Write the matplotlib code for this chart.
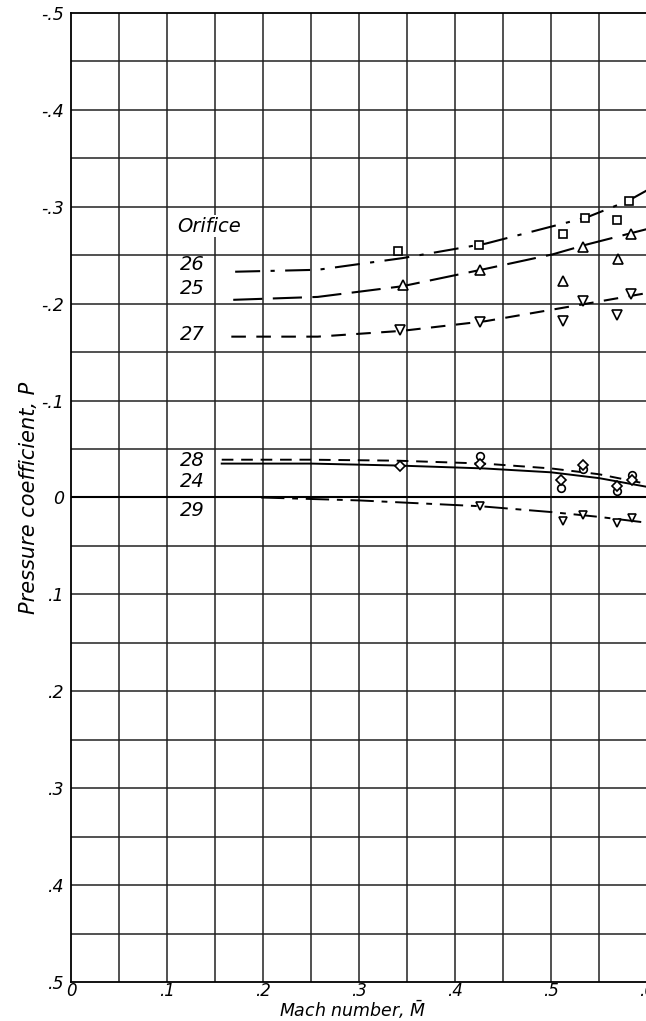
import numpy as np
import matplotlib.pyplot as plt

plt.rcParams['font.family'] = 'DejaVu Sans'
plt.rcParams['font.style'] = 'italic'
plt.rcParams['mathtext.fontset'] = 'dejavusans'

# faired curves (Mach number, pressure coefficient)
m26 = [0.171, 0.257, 0.345, 0.432, 0.502, 0.537, 0.58, 0.6]
p26 = [-0.233, -0.235, -0.247, -0.262, -0.280, -0.289, -0.306, -0.317]
m25 = [0.169, 0.257, 0.345, 0.432, 0.502, 0.537, 0.6]
p25 = [-0.204, -0.207, -0.218, -0.236, -0.251, -0.261, -0.277]
m27 = [0.167, 0.257, 0.345, 0.432, 0.502, 0.537, 0.6]
p27 = [-0.166, -0.166, -0.172, -0.182, -0.194, -0.200, -0.211]
m28 = [0.157, 0.25, 0.34, 0.43, 0.5, 0.55, 0.6]
p28 = [-0.039, -0.039, -0.038, -0.035, -0.030, -0.024, -0.014]
m24 = [0.157, 0.25, 0.34, 0.43, 0.5, 0.55, 0.6]
p24 = [-0.035, -0.035, -0.033, -0.030, -0.026, -0.020, -0.011]
m29 = [0.198, 0.3, 0.426, 0.5, 0.55, 0.6]
p29 = [0.0, 0.003, 0.009, 0.015, 0.020, 0.026]

# test points
pt26_m = [0.341, 0.425, 0.513, 0.535, 0.569, 0.581]
pt26_p = [-0.254, -0.261, -0.272, -0.288, -0.286, -0.306]
pt25_m = [0.3455, 0.426, 0.513, 0.533, 0.5695, 0.5835]
pt25_p = [-0.219, -0.235, -0.223, -0.259, -0.246, -0.272]
pt27_m = [0.343, 0.426, 0.513, 0.533, 0.569, 0.5835]
pt27_p = [-0.173, -0.181, -0.182, -0.203, -0.188, -0.210]
pt28_m = [0.426, 0.51, 0.533, 0.569, 0.584]
pt28_p = [-0.043, -0.010, -0.029, -0.007, -0.023]
pt24_m = [0.343, 0.426, 0.51, 0.533, 0.569, 0.584]
pt24_p = [-0.032, -0.035, -0.018, -0.034, -0.012, -0.018]
pt29_m = [0.426, 0.513, 0.533, 0.569, 0.584]
pt29_p = [0.009, 0.024, 0.018, 0.026, 0.021]

xticks = [0, 0.1, 0.2, 0.3, 0.4, 0.5, 0.6]
xlabels = ['0', '.1', '.2', '.3', '.4', '.5', '.6']
yticks = [-0.5, -0.4, -0.3, -0.2, -0.1, 0, 0.1, 0.2, 0.3, 0.4, 0.5]
ylabels = ['-.5', '-.4', '-.3', '-.2', '-.1', '0', '.1', '.2', '.3', '.4', '.5']

fig = plt.figure(figsize=(6.46, 10.21), dpi=100)
ax = fig.add_axes([71/646, 39/1021, 576/646, 969/1021])

ax.set_xlim(0, 0.6)
ax.set_ylim(0.5, -0.5)

# grid
for gx in np.arange(0.05, 0.6, 0.05):
    ax.axvline(gx, color='#222222', lw=1.1, zorder=1)
for gy in np.arange(-0.45, 0.5, 0.05):
    ax.axhline(gy, color='#222222', lw=1.1, zorder=1)
ax.axhline(0, color='black', lw=1.5, zorder=1)

lc = 'black'
ax.plot(m26, p26, color=lc, lw=1.5, ls=(0, (12, 5, 2, 5)), zorder=3)
ax.plot(m25, p25, color=lc, lw=1.5, ls=(0, (14, 5)), zorder=3)
ax.plot(m27, p27, color=lc, lw=1.5, ls=(0, (7, 5)), zorder=3)
ax.plot(m28, p28, color=lc, lw=1.4, ls=(0, (6, 4)), zorder=3)
ax.plot(m24, p24, color=lc, lw=1.4, ls='-', zorder=3)
ax.plot(m29, p29, color=lc, lw=1.4, ls=(0, (12, 4, 3, 4)), zorder=3)

mk = dict(ls='none', mfc='white', mec='black', mew=1.2, zorder=4)
ax.plot(pt26_m, pt26_p, marker='s', ms=5.5, **mk)
ax.plot(pt25_m, pt25_p, marker='^', ms=6.5, **mk)
ax.plot(pt27_m, pt27_p, marker='v', ms=6.5, **mk)
ax.plot(pt28_m, pt28_p, marker='o', ms=5.5, **mk)
ax.plot(pt24_m, pt24_p, marker='D', ms=5, **mk)
ax.plot(pt29_m, pt29_p, marker='v', ms=5.5, **mk)

# orifice labels
ax.text(0.111, -0.28, 'Orifice', fontsize=14, ha='left', va='center',
        bbox=dict(facecolor='white', edgecolor='none', pad=1), zorder=2)
for lab, yv in [('26', -0.240), ('25', -0.216), ('27', -0.168),
                ('28', -0.038), ('24', -0.016), ('29', 0.013)]:
    ax.text(0.139, yv, lab, fontsize=14, ha='right', va='center', zorder=2)

ax.set_xticks(xticks)
ax.set_xticklabels(xlabels, fontsize=12)
ax.set_yticks(yticks)
ax.set_yticklabels(ylabels, fontsize=12.5)
ax.tick_params(axis='x', length=0, pad=0)
ax.tick_params(axis='y', length=0, pad=5)
for s in ax.spines.values():
    s.set_color('black')
    s.set_linewidth(1.3)

fig.text(353/646, 1 - 1010/1021, r'Mach number, $\bar{M}$', fontsize=12.5,
         ha='center', va='center')
ax.set_ylabel('Pressure coefficient, P', fontsize=15, labelpad=2)

fig.savefig('out.png', dpi=100)
